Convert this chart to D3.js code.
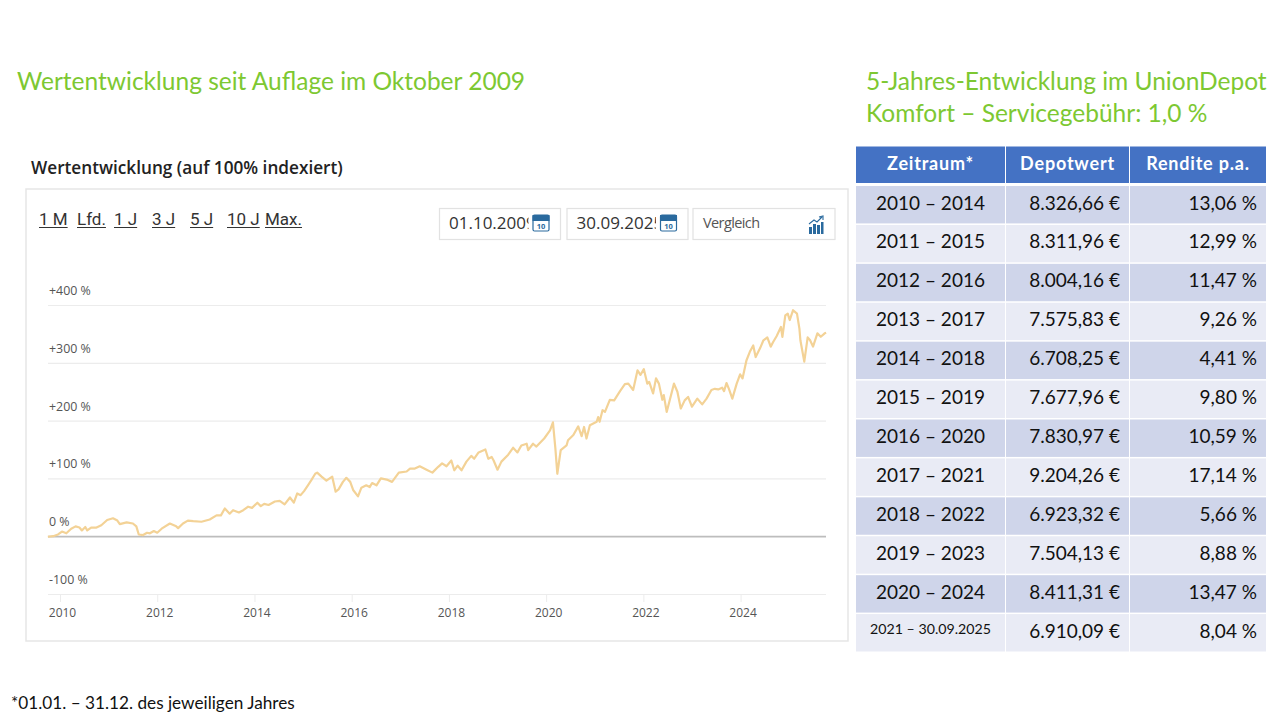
<!DOCTYPE html>
<html>
<head>
<meta charset="utf-8">
<script src="https://cdn.jsdelivr.net/npm/d3@7"></script>
<style>
  html, body { margin: 0; padding: 0; background: #fff; }
  svg { display: block; }
  .head { font-family: Lato, sans-serif; fill: #7dc832; font-size: 24.5px; }
  .web { font-family: "Open Sans", sans-serif; }
  .cell { font-family: Lato, sans-serif; fill: #111; font-size: 19px; }
</style>
</head>
<body>
<div id="draw"></div>
<script>
// series: decimal year, percent
const years = [2009.75,2009.86,2009.96,2010.04,2010.13,2010.23,2010.32,2010.40,2010.45,2010.52,2010.56,2010.64,2010.75,2010.85,2010.97,2011.09,2011.18,2011.23,2011.37,2011.50,2011.57,2011.62,2011.71,2011.79,2011.85,2011.93,2012.00,2012.09,2012.26,2012.39,
  2012.43,2012.53,2012.63,2012.74,2012.91,2013.08,2013.22,2013.31,2013.39,2013.49,2013.56,2013.68,2013.77,2013.87,2013.95,2014.06,2014.13,2014.20,2014.29,2014.42,2014.52,2014.62,2014.73,2014.81,2014.88,2014.95,2015.02,
  2015.10,2015.17,2015.25,2015.29,2015.38,2015.48,2015.60,2015.67,2015.73,2015.82,2015.89,2015.97,2016.03,2016.13,2016.20,2016.30,2016.37,2016.42,2016.51,2016.60,2016.72,2016.83,2016.97,2017.13,2017.20,2017.30,2017.40,2017.54,2017.66,
  2017.78,2017.86,2017.95,2018.05,2018.11,2018.18,2018.26,2018.36,2018.46,2018.52,2018.61,2018.75,2018.81,2018.88,2018.92,2019.00,2019.08,2019.22,2019.32,2019.41,2019.49,2019.60,2019.63,2019.73,2019.80,2019.96,2020.08,2020.14,2020.19,2020.23,2020.30,2020.42,
  2020.45,2020.56,2020.66,2020.73,2020.78,2020.83,2020.90,2021.04,2021.07,2021.10,2021.16,2021.21,2021.31,2021.40,2021.52,2021.62,2021.69,2021.79,2021.88,2021.94,2022.01,2022.08,2022.12,2022.20,2022.26,2022.32,2022.39,2022.42,2022.48,2022.63,2022.70,2022.77,2022.85,2022.92,2023.00,2023.11,
  2023.21,2023.30,2023.40,2023.47,2023.54,2023.62,2023.66,2023.71,2023.76,2023.83,2023.92,2023.99,2024.04,2024.12,2024.19,2024.26,2024.31,2024.40,2024.47,2024.55,2024.62,2024.67,2024.74,2024.83,2024.86,2024.92,2024.97,2025.01,2025.08,2025.16,2025.21,2025.23,2025.31,2025.38,2025.43,2025.49,2025.58,2025.65,2025.73,2025.76];
const percent = [-1,0,3,8,5,13,17,15,10,16,10,15,15,19,28,31,27,21,24,22,17,3,2,6,5,9,6,13,22,17,
  14,22,27,26,25,29,36,36,48,39,45,41,45,51,49,58,52,56,54,60,61,55,67,58,74,71,78,
  88,97,108,110,103,96,103,77,81,94,101,94,80,69,84,88,85,92,88,100,98,94,110,112,117,117,121,115,110,
  120,126,121,131,114,122,114,129,139,134,145,150,134,137,131,115,129,141,153,145,157,160,149,160,155,169,183,197,152,108,149,157,
  166,175,190,173,189,169,192,198,206,198,218,215,236,235,251,263,264,253,287,279,289,264,267,247,273,264,236,244,215,264,250,221,235,241,224,238,
  228,238,253,255,254,257,251,265,255,238,264,280,273,304,319,330,310,325,339,344,328,336,346,362,345,382,385,374,391,385,359,339,302,344,339,328,351,345,351,352];
const yTicks = [-100,0,100,200,300,400];
const xTicks = [2010,2012,2014,2016,2018,2020,2022,2024];
const rangeLinks = ["1 M","Lfd.","1 J","3 J","5 J","10 J","Max."];
const linkLeft = [39,77,114,152,190,227,265];

const tableHeader = ["Zeitraum*","Depotwert","Rendite p.a."];
const periods = ["2010 – 2014","2011 – 2015","2012 – 2016","2013 – 2017","2014 – 2018","2015 – 2019","2016 – 2020","2017 – 2021","2018 – 2022","2019 – 2023","2020 – 2024","2021 – 30.09.2025"];
const depotValues = ["8.326,66 €","8.311,96 €","8.004,16 €","7.575,83 €","6.708,25 €","7.677,96 €","7.830,97 €","9.204,26 €","6.923,32 €","7.504,13 €","8.411,31 €","6.910,09 €"];
const returns = ["13,06 %","12,99 %","11,47 %","9,26 %","4,41 %","9,80 %","10,59 %","17,14 %","5,66 %","8,88 %","13,47 %","8,04 %"];

const svg = d3.select("#draw").append("svg").attr("width", 1280).attr("height", 720);

// headlines
svg.append("text").attr("class", "head").attr("x", 17).attr("y", 90).text("Wertentwicklung seit Auflage im Oktober 2009");
svg.append("text").attr("class", "head").attr("x", 866).attr("y", 90).text("5-Jahres-Entwicklung im UnionDepot");
svg.append("text").attr("class", "head").attr("x", 866).attr("y", 122).text("Komfort – Servicegebühr: 1,0 %");
svg.append("text").attr("x", 11).attr("y", 709).style("font-family", "Lato, sans-serif").style("font-size", "17.2px").style("fill", "#111")
    .text("*01.01. – 31.12. des jeweiligen Jahres");

// the embedded web chart
svg.append("text").attr("class", "web").attr("x", 31).attr("y", 174).style("font-size", "17.2px").style("font-weight", 600).style("fill", "#222")
    .text("Wertentwicklung (auf 100% indexiert)");
svg.append("rect").attr("x", 26).attr("y", 189).attr("width", 822).attr("height", 452)
    .style("fill", "#fff").style("stroke", "#e6e6e6").style("stroke-width", 1.5);

// Roboto here because its J stays on the baseline, above the underline
const links = svg.append("g").style("font-family", "Roboto, sans-serif").style("font-size", "17px").style("fill", "#333");
rangeLinks.forEach((name, i) => {
    const t = links.append("text").attr("x", linkLeft[i]).attr("y", 225).text(name);
    const w = t.node().getComputedTextLength();
    links.append("line").attr("x1", linkLeft[i]).attr("x2", linkLeft[i] + w).attr("y1", 227.5).attr("y2", 227.5)
        .style("stroke", "#333").style("stroke-width", 1);
});

// input boxes
function inputBox(x, w, label, id) {
    svg.append("rect").attr("x", x).attr("y", 208.5).attr("width", w).attr("height", 31)
        .style("fill", "#fff").style("stroke", "#e2e2e2").style("stroke-width", 1.2);
    if (!id) return;
    svg.append("clipPath").attr("id", id).append("rect").attr("x", x).attr("y", 208).attr("width", 89).attr("height", 32);
    svg.append("text").attr("class", "web").attr("x", x + 9.5).attr("y", 229).attr("clip-path", "url(#" + id + ")")
        .style("font-size", "17px").style("fill", "#333").text(label);
    // calendar icon
    const g = svg.append("g").attr("transform", "translate(" + (x + 93) + ",214)");
    g.append("rect").attr("x", 0.5).attr("y", 1).attr("width", 16).attr("height", 16).attr("rx", 1.5).style("fill", "#fff").style("stroke", "#2a6a9e").style("stroke-width", 1.2);
    g.append("rect").attr("x", 0).attr("y", 1).attr("width", 17).attr("height", 6).style("fill", "#2a6a9e");
    g.append("text").attr("x", 8.5).attr("y", 15).attr("text-anchor", "middle").style("font-family", "Open Sans, sans-serif").style("font-weight", 700).style("font-size", "7.5px").style("fill", "#2a6a9e").text("10");
}
inputBox(439.5, 121, "01.10.2009", "clipFrom");
inputBox(567, 121, "30.09.2025", "clipTo");
inputBox(693, 142, "", null);
svg.append("text").attr("class", "web").attr("x", 703).attr("y", 228).style("font-size", "14.5px").style("letter-spacing", "-0.6px").style("fill", "#555").text("Vergleich");
const icon = svg.append("g").attr("transform", "translate(809,216)").style("fill", "#2a6a9e");
[[0,11,3,7],[4,8,3,10],[8,9,3,9],[12,6,2.5,12]].forEach(b => {
    icon.append("rect").attr("x", b[0]).attr("y", b[1]).attr("width", b[2]).attr("height", b[3]);
});
icon.append("path").attr("d", "M0,8 L5,4 L8,6 L13,1 M10,1 L14,0 L14,4").style("fill", "none").style("stroke", "#2a6a9e").style("stroke-width", 1.1);

// scales
const x = d3.scaleLinear().domain([2009.753, 2025.757]).range([48, 826]);
const y = d3.scaleLinear().domain([-100, 400]).range([594, 305]);

const yAxis = svg.append("g").attr("transform", "translate(48,0)")
    .call(d3.axisLeft(y).tickValues(yTicks).tickSize(-778).tickFormat(d => d > 0 ? "+" + d + " %" : d + " %"));
yAxis.select(".domain").remove();
yAxis.selectAll("line").style("stroke", d => d === 0 ? "#bdbdbd" : "#ececec").style("stroke-width", d => d === 0 ? 1.8 : 1.2);
yAxis.selectAll("text").attr("class", "web").attr("x", 1).attr("dy", "-0.85em").attr("text-anchor", "start")
    .style("font-size", "12.4px").style("fill", "#555");

const xAxis = svg.append("g").attr("transform", "translate(0,594)")
    .call(d3.axisBottom(x).tickValues(xTicks).tickSize(8).tickPadding(6).tickFormat(d3.format("d")));
xAxis.select(".domain").remove();
xAxis.selectAll("line").style("stroke", "#ececec");
xAxis.selectAll("text").attr("class", "web").attr("dx", 2).style("font-size", "12px").style("fill", "#555");

const line = d3.line().x((d, i) => x(years[i])).y(d => y(d));
svg.append("path").datum(percent).attr("d", line)
    .style("fill", "none").style("stroke", "#f3d296").style("stroke-width", 2.2).style("stroke-linejoin", "round");

// table
const colLeft = [856, 1006, 1130];
const colRight = [1005, 1129, 1266];
const rowY = d3.scaleBand().domain(periods).range([184.5, 651.5]);

tableHeader.forEach((h, c) => {
    svg.append("rect").attr("x", colLeft[c]).attr("y", 146.5).attr("width", colRight[c] - colLeft[c]).attr("height", 36.5).style("fill", "#4472c4");
    svg.append("text").attr("class", "cell").attr("x", (colLeft[c] + colRight[c]) / 2).attr("y", 170).attr("text-anchor", "middle")
        .style("fill", "#fff").style("font-size", "18px").style("letter-spacing", "0.8px").style("font-weight", 700).text(h);
});

const rows = svg.selectAll(".row").data(periods).join("g").attr("class", "row");
colLeft.forEach((left, c) => {
    rows.append("rect").attr("x", left).attr("y", d => rowY(d) + 1.5).attr("width", colRight[c] - left).attr("height", rowY.bandwidth() - 1.5)
        .style("fill", (d, i) => i % 2 === 0 ? "#cfd5ea" : "#e9ebf5");
});
rows.append("text").attr("class", "cell").attr("x", (colLeft[0] + colRight[0]) / 2).attr("y", (d, i) => rowY(d) + (i === 11 ? 21 : 25))
    .attr("text-anchor", "middle").style("font-size", (d, i) => i === 11 ? "14.2px" : "19px").text(d => d);
rows.append("text").attr("class", "cell").attr("x", 1120).attr("y", d => rowY(d) + 25).attr("text-anchor", "end").text((d, i) => depotValues[i]);
rows.append("text").attr("class", "cell").attr("x", 1257).attr("y", d => rowY(d) + 25).attr("text-anchor", "end").text((d, i) => returns[i]);
</script>
</body>
</html>
